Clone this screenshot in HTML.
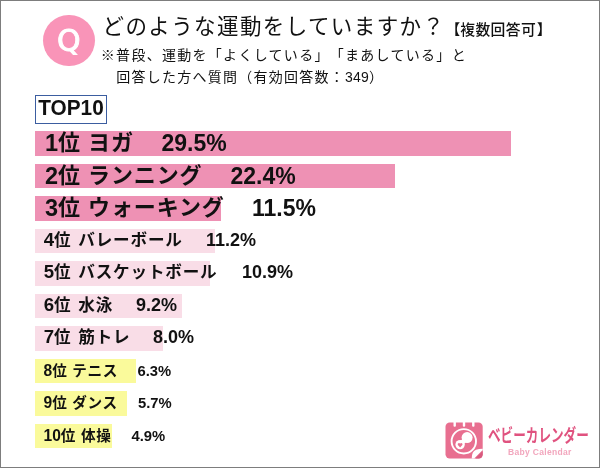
<!DOCTYPE html>
<html lang="ja">
<head>
<meta charset="utf-8">
<title>どのような運動をしていますか？</title>
<style>
html,body{margin:0;padding:0;background:#fff;}
body{width:600px;height:468px;position:relative;overflow:hidden;
  font-family:"Liberation Sans","Noto Sans CJK JP",sans-serif;color:#111;}
#frame{position:absolute;left:0;top:0;width:598px;height:466px;border:1px solid #7d7d7d;}
.abs{position:absolute;white-space:nowrap;text-spacing-trim:space-all;}
#qc{left:43px;top:14.8px;width:51.5px;height:51.5px;border-radius:50%;background:#f994b8;}
#q{left:43px;top:15px;width:51.5px;height:51.5px;line-height:51.5px;text-align:center;color:#fff;font-size:30px;font-family:"DejaVu Sans","Liberation Sans",sans-serif;-webkit-text-stroke:0.9px #fff;}
#title{left:102.5px;top:10.5px;font-size:21.5px;line-height:32px;letter-spacing:1.4px;}
#multi{left:445.5px;top:17.5px;font-size:14.8px;line-height:24px;font-weight:500;}
#sub1{left:100.8px;top:44px;font-size:14px;line-height:22px;letter-spacing:1.29px;}
#sub2{left:116.3px;top:66px;font-size:14px;line-height:22px;letter-spacing:1.25px;}
#top10{left:35px;top:94.5px;width:70px;height:27px;border:1px solid #3b5da0;background:#fff;
  font-size:20.8px;font-weight:bold;line-height:22px;text-align:center;}
.bar{position:absolute;left:35.3px;height:24.8px;}
#top10 span{display:inline-block;transform:scaleY(1.1);transform-origin:50% 50%;}
.b1{background:#ee91b4;}
.b2{background:#f9dde7;}
.b3{background:#fafa9b;}
.row{position:absolute;white-space:nowrap;font-weight:bold;}
.r1{left:45px;font-size:22px;line-height:30px;letter-spacing:0.9px;margin-top:-1px;}
.r1 .n{font-size:23.5px;letter-spacing:0;position:relative;top:1px;}
.r2{left:43.7px;font-size:16.6px;line-height:26px;word-spacing:1.5px;letter-spacing:0.8px;}
.r2 .n{font-size:18.6px;letter-spacing:0;}
.r3{left:43.5px;font-size:14.6px;line-height:24px;letter-spacing:0.7px;}
.r3 .n{font-size:15.6px;letter-spacing:0;}
.pct{position:absolute;white-space:nowrap;font-weight:bold;}
.p1{font-size:23px;line-height:30px;}
.p2{font-size:18px;line-height:26px;}
.p3{font-size:14.8px;line-height:24px;}
#logo{position:absolute;left:445px;top:422px;width:40px;height:38px;}
#brand{left:488px;top:423px;font-size:18px;line-height:26px;font-weight:bold;color:#e0527f;
  transform:scaleX(0.7);transform-origin:0 0;}
#brand2{left:508px;top:445.5px;font-size:8.5px;line-height:12px;font-weight:bold;color:#f2a6bd;letter-spacing:0.32px;}
</style>
</head>
<body>
<div id="frame"></div>
<div class="abs" id="qc"></div>
<div class="abs" id="q">Q</div>
<div class="abs" id="title">どのような運動をしていますか？</div>
<div class="abs" id="multi"><span>【</span><span style="letter-spacing:0.35px">複数回答可</span><span style="margin-left:0.75px">】</span></div>
<div class="abs" id="sub1">※普段、運動を「よくしている」「まあしている」と</div>
<div class="abs" id="sub2">回答した方へ質問（有効回答数：<span style="letter-spacing:0.2px">349</span>）</div>
<div class="abs" id="top10"><span>TOP10</span></div>

<div class="bar b1" style="top:131px;width:475.7px"></div>
<div class="bar b1" style="top:163.5px;width:359.7px"></div>
<div class="bar b1" style="top:196px;width:185.7px"></div>
<div class="bar b2" style="top:228.5px;width:179.7px"></div>
<div class="bar b2" style="top:261px;width:174.7px"></div>
<div class="bar b2" style="top:293.5px;width:146.7px"></div>
<div class="bar b2" style="top:326px;width:127.7px"></div>
<div class="bar b3" style="top:358.5px;width:100.7px"></div>
<div class="bar b3" style="top:391px;width:92.2px"></div>
<div class="bar b3" style="top:423.5px;width:77.2px"></div>

<div class="row r1" style="top:128px"><span class="n">1</span>位 ヨガ</div>
<div class="row r1" style="top:160.5px"><span class="n">2</span>位 ランニング</div>
<div class="row r1" style="top:193px"><span class="n">3</span>位 ウォーキング</div>
<div class="row r2" style="top:226.5px"><span class="n">4</span>位 バレーボール</div>
<div class="row r2" style="top:259px"><span class="n">5</span>位 バスケットボール</div>
<div class="row r2" style="top:291.5px"><span class="n">6</span>位 水泳</div>
<div class="row r2" style="top:324px"><span class="n">7</span>位 筋トレ</div>
<div class="row r3" style="top:358.5px"><span class="n">8</span>位 テニス</div>
<div class="row r3" style="top:391px"><span class="n">9</span>位 ダンス</div>
<div class="row r3" style="top:423.5px"><span class="n">10</span>位 体操</div>

<div class="pct p1" style="left:161.5px;top:128px">29.5%</div>
<div class="pct p1" style="left:230.5px;top:160.5px">22.4%</div>
<div class="pct p1" style="left:252px;top:193px">11.5%</div>
<div class="pct p2" style="left:206px;top:226.5px">11.2%</div>
<div class="pct p2" style="left:242px;top:259px">10.9%</div>
<div class="pct p2" style="left:136px;top:291.5px">9.2%</div>
<div class="pct p2" style="left:153px;top:324px">8.0%</div>
<div class="pct p3" style="left:137.5px;top:358.5px">6.3%</div>
<div class="pct p3" style="left:138px;top:391px">5.7%</div>
<div class="pct p3" style="left:131.5px;top:423.5px">4.9%</div>

<svg id="logo" viewBox="0 0 40 38"><g transform="translate(0.5,0.5)">
  <rect x="0" y="0" width="37.2" height="36" rx="4.2" fill="#e86f90"/>
  <rect x="8" y="-1" width="2.4" height="5.2" rx="1" fill="#fff"/>
  <rect x="17.3" y="-1" width="2.4" height="5.2" rx="1" fill="#fff"/>
  <rect x="26.6" y="-1" width="2.4" height="5.2" rx="1" fill="#fff"/>
  <circle cx="18.3" cy="18.8" r="12.2" fill="none" stroke="#fff" stroke-width="1.9"/>
  <line x1="21.6" y1="15.1" x2="14.6" y2="22.1" stroke="#fff" stroke-width="4.5" stroke-linecap="round"/>
  <circle cx="21.6" cy="15.1" r="5.5" fill="#fff"/>
  <circle cx="14.6" cy="22.1" r="4.7" fill="#fff"/>
  <path d="M14.6 24.9 L12.4 22.6 A1.3 1.3 0 0 1 14.6 21.2 A1.3 1.3 0 0 1 16.8 22.6 Z" fill="#e86f90"/>
  <path d="M26.2 36 Q26.2 29 30.5 27.3 Q33.5 26.2 37.2 26.2 L37.2 27.5 L28.7 36 Z" fill="#fff"/>
  <path d="M29.8 36 L37.2 28.6 L37.2 31.8 Q37.2 36 33 36 Z" fill="#d85a7e"/>
</g></svg>
<div class="abs" id="brand">ベビーカレンダー</div>
<div class="abs" id="brand2">Baby Calendar</div>

</body>
</html>
